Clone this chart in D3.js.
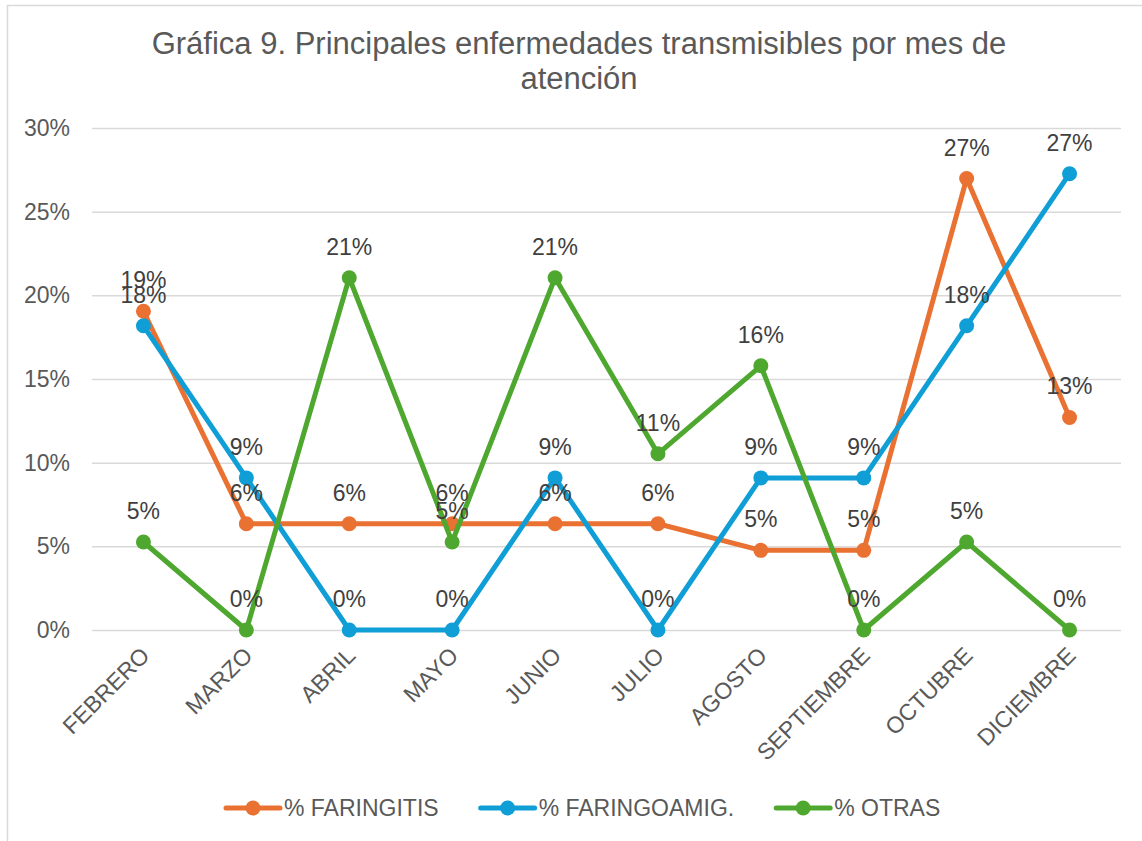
<!DOCTYPE html>
<html>
<head>
<meta charset="utf-8">
<script src="https://cdn.jsdelivr.net/npm/d3@7"></script>
<style>
  html, body { margin: 0; padding: 0; background: #fff; }
  svg { display: block; }
  text { font-family: "Liberation Sans", Arial, sans-serif; }
</style>
</head>
<body>
<svg id="chart" width="1142" height="841"></svg>
<script>
const months = ["FEBRERO", "MARZO", "ABRIL", "MAYO", "JUNIO", "JULIO", "AGOSTO", "SEPTIEMBRE", "OCTUBRE", "DICIEMBRE"];
const faringitis = [19.05, 6.35, 6.35, 6.35, 6.35, 6.35, 4.76, 4.76, 26.98, 12.70];
const faringoamig = [18.18, 9.09, 0, 0, 9.09, 0, 9.09, 9.09, 18.18, 27.27];
const otras = [5.26, 0, 21.05, 5.26, 21.05, 10.53, 15.79, 0, 5.26, 0];
const seriesNames = ["% FARINGITIS", "% FARINGOAMIG.", "% OTRAS"];
const yTicks = [0, 5, 10, 15, 20, 25, 30];
const titleLines = ["Gráfica 9. Principales enfermedades transmisibles por mes de", "atención"];

const colors = ["#E97132", "#0F9ED5", "#4EA72E"];
const seriesData = [faringitis, faringoamig, otras];

const svg = d3.select("#chart");

// chart border
svg.append("rect").attr("x", 7.5).attr("y", 5.5).attr("width", 1150).attr("height", 850)
  .attr("fill", "#fff").attr("stroke", "#d9d9d9").attr("stroke-width", 1.5);

const x = d3.scalePoint().domain(months).range([92, 1121]).padding(0.5);
const y = d3.scaleLinear().domain([0, 30]).range([630, 128]);

// title
svg.append("text").attr("text-anchor", "middle").attr("fill", "#595959")
  .style("font-size", "31px")
  .selectAll("tspan").data(titleLines).join("tspan")
  .attr("x", 579).attr("y", (d, i) => 54 + i * 35).text(d => d);

// gridlines + y axis
const yAxis = d3.axisLeft(y).tickValues(yTicks).tickSize(-(1121 - 92)).tickFormat(d => d + "%").tickPadding(22);
const gy = svg.append("g").attr("transform", "translate(92,0)").call(yAxis);
gy.select(".domain").remove();
gy.selectAll(".tick line").attr("stroke", "#d9d9d9").attr("stroke-width", 1.5);
gy.selectAll(".tick text").attr("fill", "#595959").style("font-size", "23px")
  .style("font-family", "'Liberation Sans', Arial, sans-serif");

// x axis labels
const xAxis = d3.axisBottom(x).tickSize(0).tickPadding(0);
const gx = svg.append("g").attr("transform", "translate(0,630)").call(xAxis);
gx.select(".domain").remove();
gx.selectAll(".tick text")
  .attr("fill", "#595959").style("font-size", "23px")
  .style("font-family", "'Liberation Sans', Arial, sans-serif")
  .attr("text-anchor", "end")
  .attr("x", 0).attr("y", 0).attr("dy", "0")
  .attr("transform", "translate(7,27) rotate(-45)");

// lines & markers
const line = d3.line().x((d, i) => x(months[i])).y(d => y(d));
seriesData.forEach((vals, s) => {
  const g = svg.append("g");
  g.append("path").datum(vals).attr("d", line).attr("fill", "none")
    .attr("stroke", colors[s]).attr("stroke-width", 5).attr("stroke-linejoin", "round").attr("stroke-linecap", "round");
  g.selectAll("circle").data(vals).join("circle")
    .attr("cx", (d, i) => x(months[i])).attr("cy", d => y(d)).attr("r", 7.5)
    .attr("fill", colors[s]);
});

// data labels
seriesData.forEach((vals, s) => {
  svg.append("g").selectAll("text").data(vals).join("text")
    .attr("x", (d, i) => x(months[i])).attr("y", d => y(d) - 23)
    .attr("text-anchor", "middle").attr("fill", "#404040").style("font-size", "23px")
    .text(d => Math.round(d) + "%");
});

// legend
const legendY = 808;
const lg = svg.append("g");
const items = [];
seriesNames.forEach((name, s) => {
  const it = lg.append("g");
  it.append("line").attr("x1", 0).attr("x2", 54).attr("y1", 0).attr("y2", 0)
    .attr("stroke", colors[s]).attr("stroke-width", 5).attr("stroke-linecap", "round");
  it.append("circle").attr("cx", 27).attr("cy", 0).attr("r", 7.5).attr("fill", colors[s]);
  const t = it.append("text").attr("x", 58).attr("y", 0).attr("dy", "0.35em")
    .attr("fill", "#595959").style("font-size", "23px").text(name);
  const w = 58 + t.node().getComputedTextLength();
  items.push({ it, w });
});
const gap = 42;
let start = 226;
items.forEach(({ it, w }) => {
  it.attr("transform", `translate(${start},${legendY})`);
  start += w + gap;
});
</script>
</body>
</html>
